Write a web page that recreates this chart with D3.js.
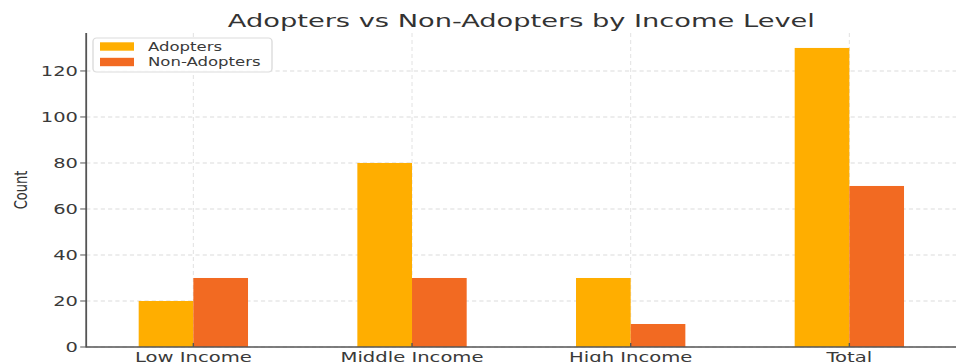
<!DOCTYPE html>
<html>
<head>
<meta charset="utf-8">
<script src="https://cdn.jsdelivr.net/npm/d3@7"></script>
<style>
  html, body { margin: 0; padding: 0; background: #fff; }
  svg { display: block; }
  text { font-family: "DejaVu Sans", sans-serif; }
</style>
</head>
<body>
<svg id="chart"></svg>
<script>
// Data
const categories = ["Low Income", "Middle Income", "High Income", "Total"];
const adopters = [20, 80, 30, 130];
const nonAdopters = [30, 30, 10, 70];
const seriesNames = ["Adopters", "Non-Adopters"];
const seriesColors = ["#ffae00", "#f26a22"];
const yTicks = [0, 20, 40, 60, 80, 100, 120];

// The drawing is laid out in a narrower logical space and stretched horizontally
const W = 956, H = 362, SX = 1.4;
const LW = W / SX;
const px = v => v / SX; // convert horizontal pixels to logical units

const svg = d3.select("#chart")
  .attr("width", W).attr("height", H)
  .attr("viewBox", `0 0 ${LW} ${H}`)
  .attr("preserveAspectRatio", "none");

const x = d3.scaleLinear().domain([-0.49, 3.49]).range([px(86.2), px(956.5)]);
const y = d3.scaleLinear().domain([0, 136.5]).range([347, 33]);
const barW = 0.25;

// Grid
const grid = svg.append("g");
grid.selectAll("line.h").data(yTicks).join("line")
  .attr("x1", x(-0.49)).attr("x2", x(3.49))
  .attr("y1", d => y(d)).attr("y2", d => y(d))
  .attr("stroke", "#dcdcdc").attr("stroke-width", 0.9)
  .attr("stroke-dasharray", "3,2.2");
grid.selectAll("line.v").data(categories.map((c, i) => i)).join("line")
  .attr("x1", d => x(d)).attr("x2", d => x(d))
  .attr("y1", y(136.5)).attr("y2", y(0))
  .attr("stroke", "#dcdcdc").attr("stroke-width", 0.7)
  .attr("stroke-dasharray", "4,3");

// Bars
const series = [adopters, nonAdopters];
series.forEach((vals, s) => {
  svg.append("g").selectAll("rect").data(vals).join("rect")
    .attr("x", (d, i) => x(i - barW + s * barW))
    .attr("width", x(barW) - x(0))
    .attr("y", d => y(d))
    .attr("height", d => y(0) - y(d))
    .attr("fill", seriesColors[s]);
});

// Spines
svg.append("line")
  .attr("x1", x(-0.49)).attr("x2", x(-0.49))
  .attr("y1", y(136.5)).attr("y2", y(0) + 0.5)
  .attr("stroke", "#555").attr("stroke-width", 1.3);
svg.append("line")
  .attr("x1", x(-0.49)).attr("x2", x(3.49))
  .attr("y1", y(0)).attr("y2", y(0))
  .attr("stroke", "#555").attr("stroke-width", 1.3);

// Y axis ticks and labels
const yAxis = svg.append("g");
yAxis.selectAll("line").data(yTicks).join("line")
  .attr("x1", x(-0.49) - px(6)).attr("x2", x(-0.49))
  .attr("y1", d => y(d)).attr("y2", d => y(d))
  .attr("stroke", "#555").attr("stroke-width", 1);
yAxis.selectAll("text").data(yTicks).join("text")
  .attr("x", px(78)).attr("y", d => y(d))
  .attr("dy", "0.36em")
  .attr("text-anchor", "end")
  .attr("font-size", 13.9)
  .attr("fill", "#3a3a3a")
  .text(d => d);

// X axis ticks and labels
const xAxis = svg.append("g");
xAxis.selectAll("line").data(categories).join("line")
  .attr("x1", (d, i) => x(i)).attr("x2", (d, i) => x(i))
  .attr("y1", y(0)).attr("y2", y(0) - 4)
  .attr("stroke", "#555").attr("stroke-width", 1);
xAxis.selectAll("text").data(categories).join("text")
  .attr("x", (d, i) => x(i)).attr("y", 361.8)
  .attr("text-anchor", "middle")
  .attr("font-size", 14)
  .attr("fill", "#3a3a3a")
  .text(d => d);

// Y label
svg.append("text")
  .attr("transform", `translate(${px(27)},190) rotate(-90)`)
  .attr("text-anchor", "middle")
  .attr("font-size", 13)
  .attr("fill", "#333")
  .text("Count");

// Title
svg.append("text")
  .attr("x", (x(-0.49) + x(3.49)) / 2).attr("y", 27.3)
  .attr("text-anchor", "middle")
  .attr("font-size", 18.2)
  .attr("textLength", px(587))
  .attr("lengthAdjust", "spacingAndGlyphs")
  .attr("fill", "#333")
  .text("Adopters vs Non-Adopters by Income Level");

// Legend
const lg = svg.append("g");
lg.append("rect")
  .attr("x", px(93)).attr("y", 38)
  .attr("width", px(272 - 93)).attr("height", 34)
  .attr("rx", 2.5).attr("ry", 3.5)
  .attr("fill", "#fff").attr("fill-opacity", 0.85)
  .attr("stroke", "#dcdcdc").attr("stroke-width", 1);
seriesNames.forEach((name, s) => {
  const cy = 46.5 + s * 15.5;
  lg.append("rect")
    .attr("x", px(100)).attr("y", cy - 4.2)
    .attr("width", px(34)).attr("height", 8.4)
    .attr("fill", seriesColors[s]);
  lg.append("text")
    .attr("x", px(148)).attr("y", cy)
    .attr("dy", "0.36em")
    .attr("font-size", 11.8)
    .attr("fill", "#3a3a3a")
    .text(name);
});
</script>
</body>
</html>
